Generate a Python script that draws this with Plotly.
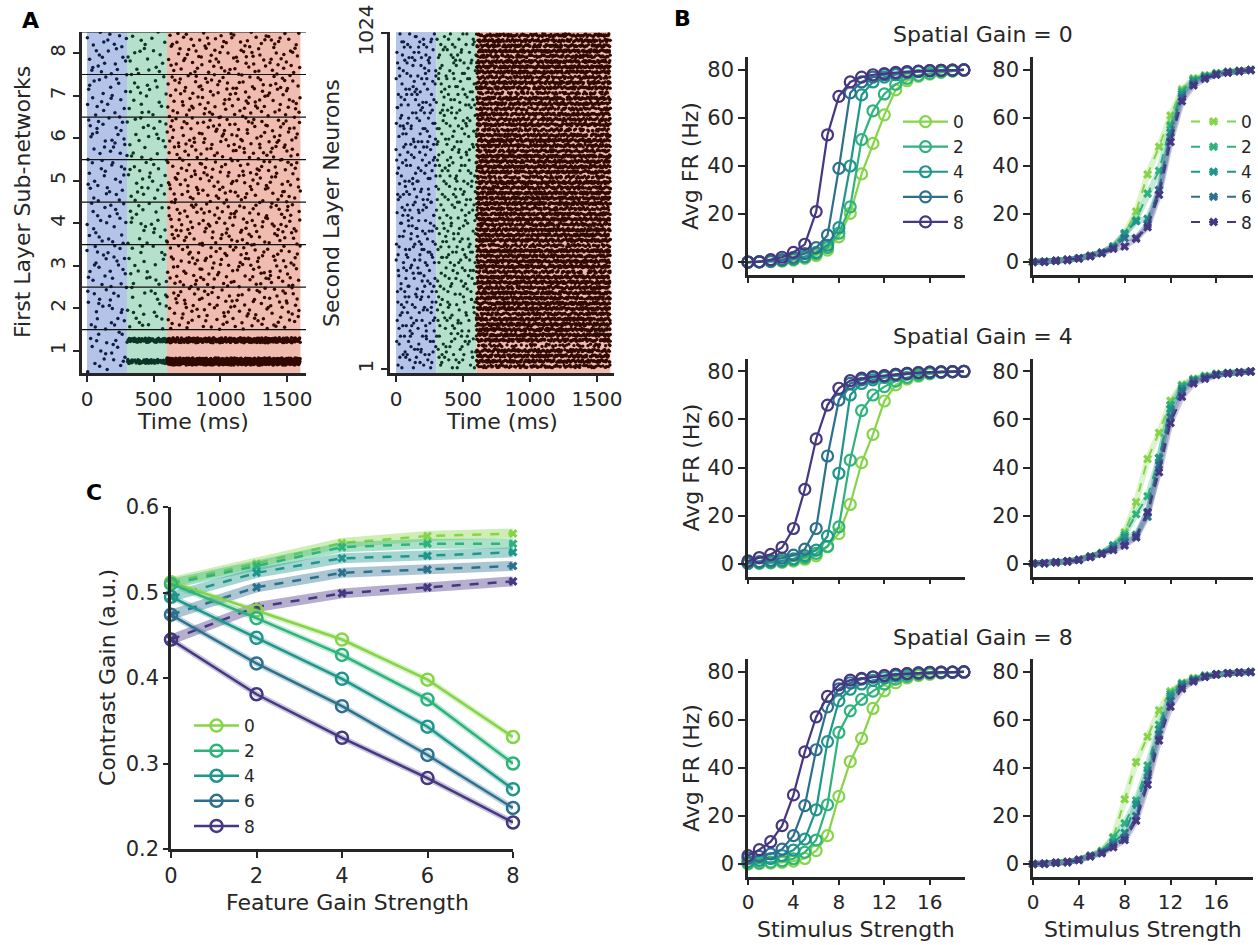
import numpy as np
import plotly.graph_objects as go

W, H = 1258, 945
FONT = "DejaVu Sans"
INK = "#262626"

# ---------------- Panel A: spike rasters ----------------
EPOCHS = [(0, 300), (300, 600), (600, 1600)]          # ms
EPOCH_BG = ["#b4c4e8", "#b4e0cc", "#efbcaf"]
EPOCH_DOT = ["#0f1d44", "#0c3526", "#300901"]

# spikes per first-layer sub-network (rows 1..8) in each epoch
L1_PRE = [22, 24, 26, 24, 25, 26, 24, 26]
L1_CUE = [0, 22, 20, 22, 24, 22, 20, 20]
L1_STIM = [0, 110, 115, 120, 115, 120, 115, 110]
# the two synchronised groups inside sub-network 1
L1_SYNC_Y = [0.75, 1.25]
L1_SYNC_CUE = [55, 60]
L1_SYNC_STIM = [420, 230]

# second-layer spikes
L2_NEURONS = 1024
L2_PRE = 350
L2_CUE = 330
L2_STIM_TOTAL = 8000
# relative activity of 64 bands of 16 neurons (bottom to top) during the stimulus
L2_STIM_BANDS = [0.6, 0.9, 1.0, 0.8, 0.35, 0.9, 1.0, 1.0, 0.95, 1.0, 0.7, 1.0, 1.0, 0.9, 1.0, 0.8,
                 1.0, 0.95, 0.7, 1.0, 1.0, 0.85, 1.0, 0.6, 0.9, 1.0, 1.0, 0.8, 1.0, 0.9, 0.7, 1.0,
                 0.95, 1.0, 0.8, 1.0, 0.6, 0.9, 1.0, 0.85, 1.0, 0.7, 0.9, 1.0, 0.8, 0.55, 0.9, 0.7,
                 0.85, 0.6, 0.8, 0.9, 0.5, 0.8, 0.9, 0.65, 0.9, 1.0, 0.85, 0.7, 1.0, 0.9, 0.75, 0.8]

# ---------------- Panel B: tuning curves ----------------
STIM = list(range(20))
GAINS = [0, 2, 4, 6, 8]
GAIN_COLORS = ["#86d549", "#2eb37c", "#1f968b", "#2d708e", "#453781"]

FR_SG0_FEATURE = [
    [0, 0.05, 0.2, 0.4, 0.8, 1.5, 2.7, 5, 10.5, 20.3, 36.7, 49.4, 61.3, 71.7, 75.5, 77.3, 78.3, 79.0, 79.5, 80],
    [0, 0.1, 0.3, 0.6, 1.1, 2, 3.5, 6, 12, 23, 51, 63, 70, 74, 76.5, 77.8, 78.6, 79.2, 79.6, 80],
    [0, 0.1, 0.3, 0.7, 1.3, 2.3, 4, 7, 14.3, 40, 69.6, 75, 77, 78, 78.8, 79.3, 79.6, 79.8, 79.9, 80],
    [0, 0.2, 0.5, 1, 2, 3.5, 6, 11.2, 39, 70.5, 75, 77, 78, 78.6, 79.1, 79.4, 79.7, 79.8, 79.9, 80],
    [0, 0.1, 1, 2, 4, 7.4, 21, 53, 69, 75, 77, 78, 78.5, 79, 79.3, 79.5, 79.7, 79.8, 79.9, 80],
]
FR_SG0_SPATIAL = [
    [0, 0.1, 0.5, 0.9, 1.6, 2.6, 4, 6.5, 12, 21, 36.5, 48, 61, 72, 76.5, 77.8, 78.7, 79.3, 79.7, 80],
    [0, 0.1, 0.5, 0.9, 1.6, 2.6, 4, 6.5, 11.5, 17.5, 28.5, 38, 57, 71, 76, 77.5, 78.5, 79.2, 79.6, 80],
    [0, 0.1, 0.5, 0.9, 1.6, 2.5, 3.9, 6.5, 12, 17, 18, 30, 54, 70, 75.5, 77.3, 78.4, 79.1, 79.6, 80],
    [0, 0.1, 0.5, 0.9, 1.6, 2.5, 3.8, 6, 10, 10, 15.5, 30, 52, 68.5, 74.5, 76.8, 78.2, 79, 79.5, 80],
    [0, 0.1, 0.5, 0.9, 1.5, 2.4, 3.7, 5.5, 6.5, 9.7, 14.5, 28, 50, 67, 73.5, 76.3, 78, 78.9, 79.5, 80],
]
FR_SG4_FEATURE = [
    [0, 0.1, 0.3, 0.5, 1, 1.8, 3.2, 7, 12.5, 24.6, 42, 53.8, 67.7, 74.4, 76.8, 78, 79, 79.5, 79.8, 80],
    [0.1, 0.2, 0.4, 0.8, 1.4, 2.5, 4.2, 7.2, 15.3, 43.1, 63.7, 70.2, 73.7, 76, 77.5, 78.5, 79.2, 79.6, 79.8, 80],
    [0.2, 0.4, 0.7, 1.2, 2, 3.3, 5.6, 11.4, 37.6, 70.2, 75, 76.5, 77.5, 78.3, 78.9, 79.3, 79.6, 79.8, 79.9, 80],
    [0.5, 0.8, 1.3, 2.2, 3.5, 6, 14.6, 44.8, 68.1, 75, 76.5, 77.5, 78.2, 78.8, 79.2, 79.5, 79.7, 79.8, 79.9, 80],
    [1.1, 2.5, 3.8, 6.7, 14.6, 30.9, 51.9, 66, 73, 76.2, 77.2, 77.9, 78.3, 78.8, 79.2, 79.5, 79.7, 79.8, 79.9, 80],
]
FR_SG4_SPATIAL = [
    [0, 0.1, 0.5, 0.9, 1.6, 2.9, 4.4, 7.5, 13, 25.6, 43.5, 54.5, 67.8, 74.5, 77, 78.2, 79, 79.4, 79.7, 80],
    [0, 0.1, 0.5, 0.9, 1.6, 2.9, 4.4, 7.5, 12, 20.5, 28, 44, 66, 74, 76.5, 78, 78.9, 79.4, 79.7, 80],
    [0, 0.1, 0.5, 0.9, 1.6, 2.8, 4.3, 7.5, 11, 12, 21, 44, 64.5, 73, 76.5, 77.7, 78.8, 79.3, 79.7, 80],
    [0, 0.1, 0.5, 0.9, 1.6, 2.8, 4.2, 6.5, 9, 11, 19.5, 41, 61, 72, 76, 77.5, 78.7, 79.3, 79.7, 80],
    [0, 0.1, 0.5, 0.9, 1.5, 2.7, 4, 5.6, 7.5, 11, 21.5, 38, 58.5, 69.5, 75, 77, 78.5, 79.2, 79.6, 80],
]
FR_SG8_FEATURE = [
    [0, 0.2, 0.4, 0.7, 1.2, 2.3, 5.6, 11.8, 28.2, 42.7, 52.3, 64.8, 72.1, 75.5, 77.5, 78.5, 79, 79.5, 79.8, 80],
    [0.3, 0.5, 0.8, 1.3, 2.2, 4.9, 10, 24.7, 54.8, 63.8, 68.6, 72, 75, 77, 78.2, 79, 79.4, 79.7, 79.9, 80],
    [1, 1.5, 2.3, 3.5, 5.8, 10.4, 22.6, 51, 68, 72.8, 75, 76.5, 77.6, 78.4, 79, 79.4, 79.7, 79.8, 79.9, 80],
    [2.5, 3.2, 4.2, 6.2, 11.8, 24.3, 47.6, 65.5, 73, 75.5, 77, 77.8, 78.5, 79, 79.3, 79.6, 79.8, 79.9, 79.9, 80],
    [3.5, 6, 9.3, 16, 28.8, 46.7, 61.3, 69.8, 74.6, 76.6, 77.3, 78, 78.5, 79, 79.3, 79.6, 79.8, 79.9, 79.9, 80],
]
FR_SG8_SPATIAL = [
    [0, 0.1, 0.5, 0.8, 1.8, 3.4, 5.5, 11, 27, 42.5, 53, 64, 72, 75.5, 77.5, 78.5, 79, 79.5, 79.8, 80],
    [0, 0.1, 0.5, 0.8, 1.8, 3.4, 5.3, 11, 17, 26.5, 41, 58, 71, 75, 77, 78.5, 79, 79.5, 79.8, 80],
    [0, 0.1, 0.5, 0.8, 1.8, 3.3, 5, 9, 13, 25, 38, 56, 70, 75, 77, 78, 79, 79.5, 79.8, 80],
    [0, 0.1, 0.5, 0.8, 1.7, 3.2, 4.8, 8, 11, 20, 35, 54, 68, 74, 76.5, 78, 79, 79.5, 79.8, 80],
    [0, 0.1, 0.5, 0.8, 1.7, 3.2, 4.5, 7, 10, 18, 33, 51.5, 65.5, 73, 76, 78, 79, 79.5, 79.8, 80],
]

# ---------------- Panel C: contrast gain ----------------
FEATURE_GAIN = [0, 2, 4, 6, 8]
CG_FEATURE = [
    [0.512, 0.479, 0.445, 0.398, 0.331],
    [0.510, 0.470, 0.427, 0.375, 0.300],
    [0.495, 0.447, 0.399, 0.343, 0.270],
    [0.474, 0.417, 0.367, 0.310, 0.248],
    [0.445, 0.381, 0.330, 0.283, 0.231],
]
CG_SPATIAL = [
    [0.512, 0.534, 0.558, 0.566, 0.569],
    [0.510, 0.531, 0.553, 0.557, 0.557],
    [0.495, 0.523, 0.540, 0.543, 0.547],
    [0.474, 0.506, 0.523, 0.527, 0.531],
    [0.445, 0.483, 0.499, 0.506, 0.513],
]


def dom_x(left, right):
    return [left / W, right / W]


def dom_y(top, bottom):
    return [1 - bottom / H, 1 - top / H]


def px(x):
    return x / W


def py(y):
    return 1 - y / H


def radical_inverse(idx, base):
    """Van der Corput radical inverse, used to lay spikes out evenly."""
    i = np.asarray(idx, dtype=np.int64).copy()
    out = np.zeros(i.shape)
    f = 1.0 / base
    while np.any(i > 0):
        out += f * (i % base)
        i //= base
        f /= base
    return out


LEAP = 409


def spread(n, base, offset):
    """Leaped Halton coordinate for n spikes."""
    return radical_inverse(offset + 1 + np.arange(n) * LEAP, base)


def rgba(hex_color, a):
    h = hex_color.lstrip("#")
    r, g, b = int(h[0:2], 16), int(h[2:4], 16), int(h[4:6], 16)
    return f"rgba({r},{g},{b},{a})"


fig = go.Figure()

# ---- A, first layer raster ----
for e, (t0, t1) in enumerate(EPOCHS):
    counts = [L1_PRE, L1_CUE, L1_STIM][e]
    xs, ys = [], []
    for r, n in enumerate(counts, start=1):
        if n == 0:
            continue
        off = 1000 * e + 137 * r
        xs.append(t0 + (t1 - t0) * spread(n, 2, off))
        ys.append(r - 0.5 + spread(n, 3, off))
    if e > 0:
        sync = L1_SYNC_CUE if e == 1 else L1_SYNC_STIM
        widths = [0.10, 0.10] if e == 1 else [0.17, 0.12]
        for k, (yc, n) in enumerate(zip(L1_SYNC_Y, sync)):
            off = 5000 + 700 * e + 311 * k
            xs.append(t0 + (t1 - t0) * spread(n, 2, off))
            ys.append(yc + widths[k] * (spread(n, 3, off) - 0.5))
    fig.add_trace(go.Scatter(
        x=np.concatenate(xs), y=np.concatenate(ys), mode="markers",
        marker=dict(size=3.5, color=EPOCH_DOT[e], line=dict(width=0)),
        xaxis="x", yaxis="y", showlegend=False, hoverinfo="skip"))

# ---- A, second layer raster ----
band_w = np.array(L2_STIM_BANDS) / np.sum(L2_STIM_BANDS)
band_edges = np.cumsum(band_w)
band_size = L2_NEURONS / len(L2_STIM_BANDS)
for e, (t0, t1) in enumerate(EPOCHS):
    off = 20000 + 3000 * e
    if e < 2:
        n = [L2_PRE, L2_CUE][e]
        t = t0 + (t1 - t0) * spread(n, 2, off)
        nid = 1 + np.floor(spread(n, 3, off) * 128) * 8 + 4
    else:
        n = L2_STIM_TOTAL
        t = t0 + (t1 - t0) * spread(n, 2, off)
        band = np.searchsorted(band_edges, spread(n, 3, off))
        band = np.clip(band, 0, len(L2_STIM_BANDS) - 1)
        nid = 1 + band * band_size + band_size / 2 + 8 * (spread(n, 5, off) - 0.5)
    fig.add_trace(go.Scatter(
        x=t, y=nid, mode="markers",
        marker=dict(size=3.3, color=EPOCH_DOT[e], line=dict(width=0)),
        xaxis="x2", yaxis="y2", showlegend=False, hoverinfo="skip"))

# ---- B, tuning curves ----
B_PANELS = [
    (FR_SG0_FEATURE, "solid", 3, 0), (FR_SG0_SPATIAL, "dash", 4, 0),
    (FR_SG4_FEATURE, "solid", 5, 1), (FR_SG4_SPATIAL, "dash", 6, 1),
    (FR_SG8_FEATURE, "solid", 7, 2), (FR_SG8_SPATIAL, "dash", 8, 2),
]
for data, style, ax, row in B_PANELS:
    for i, (g, col) in enumerate(zip(GAINS, GAIN_COLORS)):
        if style == "dash":
            fig.add_trace(go.Scatter(
                x=STIM, y=data[i], mode="lines", line=dict(color=rgba(col, 0.28), width=6),
                xaxis=f"x{ax}", yaxis=f"y{ax}", showlegend=False, hoverinfo="skip"))
            fig.add_trace(go.Scatter(
                x=STIM, y=data[i], mode="lines+markers", name=str(g),
                line=dict(color=col, width=2, dash="dash"),
                marker=dict(symbol="x", size=8, color=col, line=dict(width=0)),
                xaxis=f"x{ax}", yaxis=f"y{ax}", cliponaxis=False,
                showlegend=(row == 0), legend="legend2"))
        else:
            fig.add_trace(go.Scatter(
                x=STIM, y=data[i], mode="lines+markers", name=str(g),
                line=dict(color=col, width=2.2),
                marker=dict(symbol="circle-open", size=11, color=col, line=dict(width=2.2)),
                xaxis=f"x{ax}", yaxis=f"y{ax}", cliponaxis=False,
                showlegend=(row == 0), legend="legend"))

# ---- C, contrast gain ----
for i, (g, col) in enumerate(zip(GAINS, GAIN_COLORS)):
    fig.add_trace(go.Scatter(
        x=FEATURE_GAIN, y=CG_SPATIAL[i], mode="lines", line=dict(color=rgba(col, 0.4), width=10),
        xaxis="x9", yaxis="y9", showlegend=False, hoverinfo="skip"))
    fig.add_trace(go.Scatter(
        x=FEATURE_GAIN, y=CG_SPATIAL[i], mode="lines+markers",
        line=dict(color=col, width=2.5, dash="dash"),
        marker=dict(symbol="x", size=8, color=col, line=dict(width=0)),
        xaxis="x9", yaxis="y9", cliponaxis=False, showlegend=False))
for i, (g, col) in enumerate(zip(GAINS, GAIN_COLORS)):
    fig.add_trace(go.Scatter(
        x=FEATURE_GAIN, y=CG_FEATURE[i], mode="lines", line=dict(color=rgba(col, 0.3), width=6),
        xaxis="x9", yaxis="y9", showlegend=False, hoverinfo="skip"))
    fig.add_trace(go.Scatter(
        x=FEATURE_GAIN, y=CG_FEATURE[i], mode="lines+markers", name=str(g),
        line=dict(color=col, width=2.5),
        marker=dict(symbol="circle-open", size=12, color=col, line=dict(width=2.5)),
        xaxis="x9", yaxis="y9", cliponaxis=False, showlegend=True, legend="legend3"))

# ---------------- axes ----------------
axis_common = dict(showline=True, linecolor=INK, linewidth=2.5, ticks="outside", ticklen=6,
                   tickwidth=2, tickcolor=INK, showgrid=False, zeroline=False, automargin=False,
                   tickfont=dict(family=FONT, size=20, color=INK))

layout = dict(
    width=W, height=H, margin=dict(l=0, r=0, t=0, b=0, pad=0, autoexpand=False), autosize=False,
    paper_bgcolor="white", plot_bgcolor="white",
    font=dict(family=FONT, color=INK),
)

# A left
layout["xaxis"] = dict(axis_common, domain=dom_x(82, 306), range=[-37.5, 1642], anchor="y",
                       tickvals=[0, 500, 1000, 1500])
layout["yaxis"] = dict(axis_common, domain=dom_y(32, 373), range=[0.48, 8.5], anchor="x",
                       tickvals=list(range(1, 9)), tickangle=-90)
# A right
layout["xaxis2"] = dict(axis_common, domain=dom_x(390, 614), range=[-45, 1627], anchor="y2",
                        tickvals=[0, 500, 1000, 1500])
layout["yaxis2"] = dict(axis_common, domain=dom_y(32, 373), range=[-11, 1027], anchor="x2",
                        tickvals=[1, 1024], tickangle=-90)

# B grid
B_COLS = [(748, 965, [0, 19.1]), (1033, 1253, [0, 19.2])]
B_ROWS = [(57, 275), (358.5, 576.5), (659, 877)]
for data, style, ax, row in B_PANELS:
    c = 0 if style == "solid" else 1
    left, right, xr = B_COLS[c]
    top, bottom = B_ROWS[row]
    layout[f"xaxis{ax}"] = dict(axis_common, domain=dom_x(left, right), range=xr, anchor=f"y{ax}",
                                tickvals=[0, 4, 8, 12, 16], showticklabels=(row == 2), ticklen=5)
    layout[f"yaxis{ax}"] = dict(axis_common, domain=dom_y(top, bottom), range=[-5.4, 85.4],
                                anchor=f"x{ax}", tickvals=[0, 20, 40, 60, 80], ticklen=7,
                                tickfont=dict(family=FONT, size=21, color=INK))

# C
layout["xaxis9"] = dict(axis_common, domain=dom_x(171, 513), range=[0, 8], anchor="y9",
                        tickvals=[0, 2, 4, 6, 8], tickfont=dict(family=FONT, size=21, color=INK))
layout["yaxis9"] = dict(axis_common, domain=dom_y(507, 849), range=[0.2, 0.6], anchor="x9",
                        tickvals=[0.2, 0.3, 0.4, 0.5, 0.6], tickformat=".1f", ticklen=5,
                        tickfont=dict(family=FONT, size=21, color=INK))

legend_font = dict(family=FONT, size=17, color=INK)
legend_common = dict(xanchor="left", yanchor="top", font=legend_font, itemwidth=45,
                     bgcolor="rgba(0,0,0,0)", tracegroupgap=0)
layout["legend"] = dict(legend_common, x=px(898), y=py(104))
layout["legend2"] = dict(legend_common, x=px(1186), y=py(104))
layout["legend3"] = dict(legend_common, x=px(189), y=py(708))

# raster backgrounds and sub-network separators
shapes = []
for axn in ["", "2"]:
    for (t0, t1), bg in zip(EPOCHS, EPOCH_BG):
        shapes.append(dict(type="rect", xref=f"x{axn}", yref=f"y{axn} domain", x0=t0, x1=t1,
                           y0=0, y1=1, fillcolor=bg, line=dict(width=0), layer="below"))
for k in range(1, 9):
    shapes.append(dict(type="line", xref="x domain", yref="y", x0=0, x1=1, y0=k + 0.5, y1=k + 0.5,
                       line=dict(color="#111111", width=1.2), layer="above"))
layout["shapes"] = shapes

annotations = []


def label(text, x, y, size=22, angle=0, bold=False):
    annotations.append(dict(
        text=f"<b>{text}</b>" if bold else text, x=px(x), y=py(y), xref="paper", yref="paper",
        xanchor="center", yanchor="middle", showarrow=False, textangle=angle,
        font=dict(family=FONT, size=size, color="#000000" if bold else INK)))


label("A", 30, 20, size=22, bold=True)
label("B", 682, 19, size=22, bold=True)
label("C", 94, 493, size=22, bold=True)
label("First Layer Sub-networks", 22, 202, angle=-90)
label("Second Layer Neurons", 332, 203, angle=-90)
label("Time (ms)", 193, 421)
label("Time (ms)", 502, 421)
for r, (top, bottom) in enumerate(B_ROWS):
    label("Avg FR (Hz)", 691, (top + bottom) / 2, angle=-90)
    label(f"Spatial Gain = {[0, 4, 8][r]}", 983, 35 + 301 * r)
label("Stimulus Strength", 856, 929)
label("Stimulus Strength", 1143, 929)
label("Contrast Gain (a.u.)", 107, 678, angle=-90)
label("Feature Gain Strength", 347, 902)
layout["annotations"] = annotations

fig.update_layout(**layout)
fig.write_html("out.html")
